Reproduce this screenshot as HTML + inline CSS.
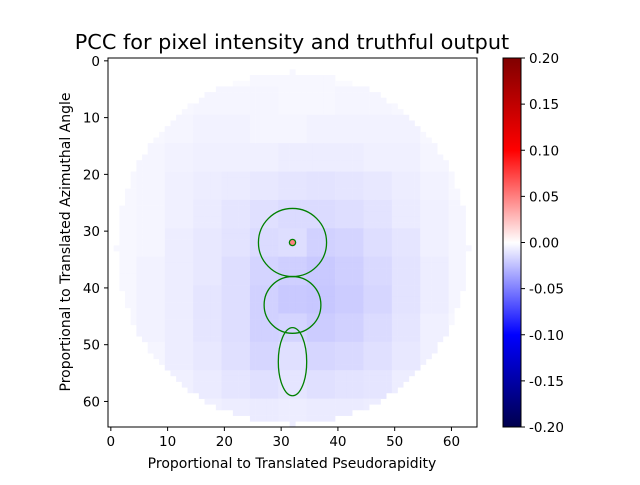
<!DOCTYPE html>
<html><head><meta charset="utf-8"><style>
body{margin:0;background:#fff}
text{font-family:"DejaVu Sans","Liberation Sans",sans-serif}
</style></head><body>
<svg id="c" width="640" height="480" xmlns="http://www.w3.org/2000/svg">
<defs><linearGradient id="cb" x1="0" y1="1" x2="0" y2="0">
<stop offset="0" stop-color="#00004d"/><stop offset="0.25" stop-color="#0000ff"/><stop offset="0.5" stop-color="#ffffff"/><stop offset="0.75" stop-color="#ff0000"/><stop offset="1" stop-color="#800000"/></linearGradient></defs>
<text x="292" y="49" font-size="20.8" text-anchor="middle">PCC for pixel intensity and truthful output</text>
<g id="heat"></g>
<g id="ov"></g>
<rect x="108" y="58" width="369" height="369" fill="none" stroke="#000" stroke-width="1"/>
<g id="ax"></g>
<text x="292" y="468" font-size="14" text-anchor="middle">Proportional to Translated Pseudorapidity</text>
<text transform="translate(70,242) rotate(-90)" font-size="14" text-anchor="middle">Proportional to Translated Azimuthal Angle</text>
<rect x="503" y="58" width="18" height="369" fill="url(#cb)" stroke="#000" stroke-width="1"/>
<g id="cbt"></g>
</svg>
<script>
// coarse 13x13 grid of PCC values (each cell = 5x5 pixels)
const grid = [
[0,0,0,0,0,-0.003,-0.003,-0.003,0,0,0,0,0],
[0,0,-0.003,-0.004,-0.004,-0.004,-0.003,-0.003,-0.004,-0.004,-0.003,0,0],
[0,-0.003,-0.004,-0.005,-0.005,-0.004,-0.004,-0.005,-0.005,-0.005,-0.005,-0.003,0],
[0,-0.004,-0.005,-0.006,-0.006,-0.006,-0.007,-0.007,-0.007,-0.006,-0.006,-0.004,0],
[-0.003,-0.004,-0.006,-0.007,-0.008,-0.009,-0.010,-0.011,-0.010,-0.009,-0.007,-0.005,-0.003],
[-0.003,-0.004,-0.006,-0.008,-0.010,-0.012,-0.014,-0.014,-0.013,-0.011,-0.008,-0.006,-0.004],
[-0.003,-0.004,-0.007,-0.009,-0.011,-0.014,-0.013,-0.018,-0.017,-0.013,-0.010,-0.006,-0.004],
[-0.003,-0.005,-0.007,-0.009,-0.013,-0.017,-0.019,-0.021,-0.019,-0.015,-0.011,-0.007,-0.004],
[-0.003,-0.005,-0.007,-0.010,-0.013,-0.018,-0.021,-0.022,-0.020,-0.016,-0.011,-0.007,-0.004],
[-0.003,-0.005,-0.007,-0.010,-0.013,-0.018,-0.017,-0.020,-0.018,-0.014,-0.010,-0.006,-0.003],
[0,-0.004,-0.007,-0.009,-0.012,-0.016,-0.012,-0.016,-0.015,-0.012,-0.009,-0.006,0],
[0,-0.003,-0.006,-0.008,-0.010,-0.012,-0.010,-0.012,-0.011,-0.010,-0.007,-0.005,0],
[0,0,-0.005,-0.006,-0.007,-0.008,-0.007,-0.008,-0.008,-0.007,-0.005,0,0]];
const xTicks=[0,10,20,30,40,50,60];
const yTicks=[0,10,20,30,40,50,60];
const cbTicks=[0.20,0.15,0.10,0.05,0.00,-0.05,-0.10,-0.15,-0.20];
const circles=[[32,32,6,6],[32,32,0.55,0.55],[32,43,5,5],[32,53,2.5,6]];
const hotPixel=[32,32,0.05];
const NS='http://www.w3.org/2000/svg';
const X0=108,W=369,N=65,S=W/N;
const sx=v=>X0+(v+0.5)*S, sy=v=>58+(v+0.5)*S;
function col(v){let t=(v+0.2)/0.4;t=Math.max(0,Math.min(1,t));
 const st=[[0,0,0,77],[0.25,0,0,255],[0.5,255,255,255],[0.75,255,0,0],[1,128,0,0]];
 for(let i=0;i<4;i++){const a=st[i],b=st[i+1];if(t<=b[0]){const f=(t-a[0])/(b[0]-a[0]);
 return `rgb(${Math.round(a[1]+f*(b[1]-a[1]))},${Math.round(a[2]+f*(b[2]-a[2]))},${Math.round(a[3]+f*(b[3]-a[3]))})`;}}return '#800000';}
function mk(tag,at,p){const e=document.createElementNS(NS,tag);for(const k in at)e.setAttribute(k,at[k]);p.appendChild(e);return e;}
const heat=document.getElementById('heat');
for(let r=0;r<N;r++)for(let c=0;c<N;c++){
 if(Math.hypot(c-32,r-33)>31)continue;
 const gr=Math.min(12,Math.floor(r/5)),gc=Math.min(12,Math.floor(c/5));
 let v=grid[gr][gc]; if(v===0)v=-0.002;
 const e=mk('rect',{x:sx(c-0.5),y:sy(r-0.5),width:S+0.3,height:S+0.3,fill:col(v)},heat);
 
 
}
const hp=mk('rect',{x:sx(hotPixel[0]-0.5),y:sy(hotPixel[1]-0.5),width:S,height:S,fill:col(hotPixel[2])},heat);


const ov=document.getElementById('ov');
circles.forEach(c=>{const e=mk('ellipse',{cx:sx(c[0]),cy:sy(c[1]),rx:c[2]*S,ry:c[3]*S,fill:'none',stroke:'#008000','stroke-width':1.3},ov);
 
 });
const ax=document.getElementById('ax');
xTicks.forEach(t=>{mk('line',{x1:sx(t),x2:sx(t),y1:427,y2:431,stroke:'#000'},ax);
 const e=mk('text',{x:sx(t),y:446,'font-size':13.5,'text-anchor':'middle'},ax);e.textContent=t;
 
 });
yTicks.forEach(t=>{mk('line',{x1:104,x2:108,y1:sy(t),y2:sy(t),stroke:'#000'},ax);
 const e=mk('text',{x:100,y:sy(t)+5,'font-size':13.5,'text-anchor':'end'},ax);e.textContent=t;
 
 });
const cbt=document.getElementById('cbt');
cbTicks.forEach(t=>{const y=58+(0.2-t)/0.4*369;
 mk('line',{x1:521,x2:525,y1:y,y2:y,stroke:'#000'},cbt);
 const e=mk('text',{x:529,y:y+5,'font-size':13.5},cbt);e.textContent=t.toFixed(2);
 
 });
</script>
</body></html>
